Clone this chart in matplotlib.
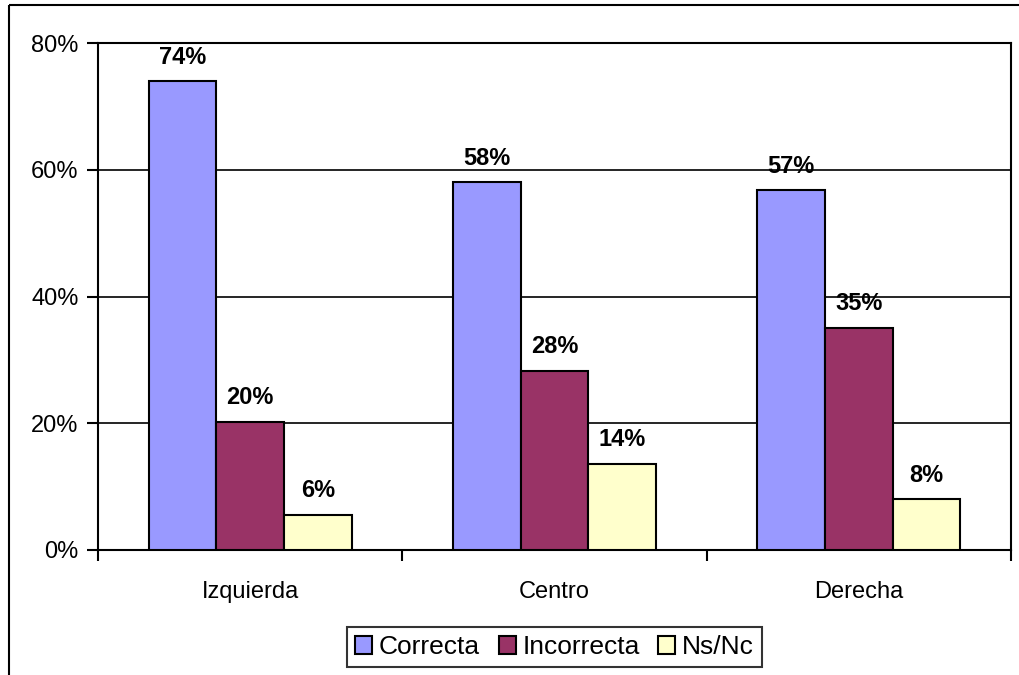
import matplotlib
matplotlib.use("Agg")
import matplotlib.pyplot as plt
import numpy as np
from matplotlib.lines import Line2D

categories = ["Izquierda", "Centro", "Derecha"]
series_names = ["Correcta", "Incorrecta", "Ns/Nc"]
correcta = [74.0, 58.0, 56.8]
incorrecta = [20.2, 28.3, 35.1]
nsnc = [5.6, 13.6, 8.0]
yticks = [0, 20, 40, 60, 80]
colors = ["#9999FF", "#993366", "#FFFFCC"]

plt.rcParams['font.family'] = ['Liberation Sans', 'DejaVu Sans']
FS = 17

fig = plt.figure(figsize=(10.19, 6.75), dpi=100)
fig.patch.set_linewidth(0)
ax = fig.add_axes([98/1019, 125/675, (1011-98)/1019, (550-43)/675])

x = np.arange(len(categories))
w = 0.222
series = [correcta, incorrecta, nsnc]
for i, (vals, name, c) in enumerate(zip(series, series_names, colors)):
    pos = x + (i - 1) * w
    ax.bar(pos, vals, width=w, color=c, edgecolor='black', linewidth=1.5,
           label=name, zorder=3)
    for px, v in zip(pos, vals):
        ax.annotate(f"{round(v)}%", (px, v), xytext=(0, 9), textcoords='offset points',
                    ha='center', va='bottom', fontsize=FS, fontweight='bold', zorder=4)

ax.set_xlim(-0.5, 2.5)
ax.set_ylim(0, 80)
ax.set_yticks(yticks)
ax.set_yticklabels([f"{t}%" for t in yticks], fontsize=FS)
ax.yaxis.grid(True, color='black', linewidth=1.2, zorder=0)
ax.set_xticks([-0.5, 0.5, 1.5, 2.5])
ax.set_xticklabels([])
ax.set_xticks(x, minor=True)
ax.set_xticklabels(categories, minor=True, fontsize=FS)
ax.tick_params(axis='x', which='major', length=8, width=1.5, direction='out')
ax.tick_params(axis='x', which='minor', length=0, pad=22)
ax.tick_params(axis='y', length=8, width=1.5, direction='out', pad=6)
for s in ax.spines.values():
    s.set_linewidth(1.5)
    s.set_color('black')

leg = ax.legend(loc='center', bbox_to_anchor=(0.5, (675-647-125)/507), ncol=3,
                fontsize=19, frameon=True, fancybox=False, edgecolor='black',
                handlelength=0.65, handleheight=0.65, handletextpad=0.25,
                columnspacing=0.7, borderpad=0.3, borderaxespad=0)
leg.get_frame().set_linewidth(1.5)

# outer chart-area frame (left and top edges visible)
fig.add_artist(Line2D([9/1019, 9/1019], [-0.01, 670/675], transform=fig.transFigure,
                      color='black', linewidth=1.5, solid_capstyle='butt'))
fig.add_artist(Line2D([9/1019, 1.01], [670/675, 670/675], transform=fig.transFigure,
                      color='black', linewidth=1.5, solid_capstyle='butt'))

fig.savefig("out.png", dpi=100)
